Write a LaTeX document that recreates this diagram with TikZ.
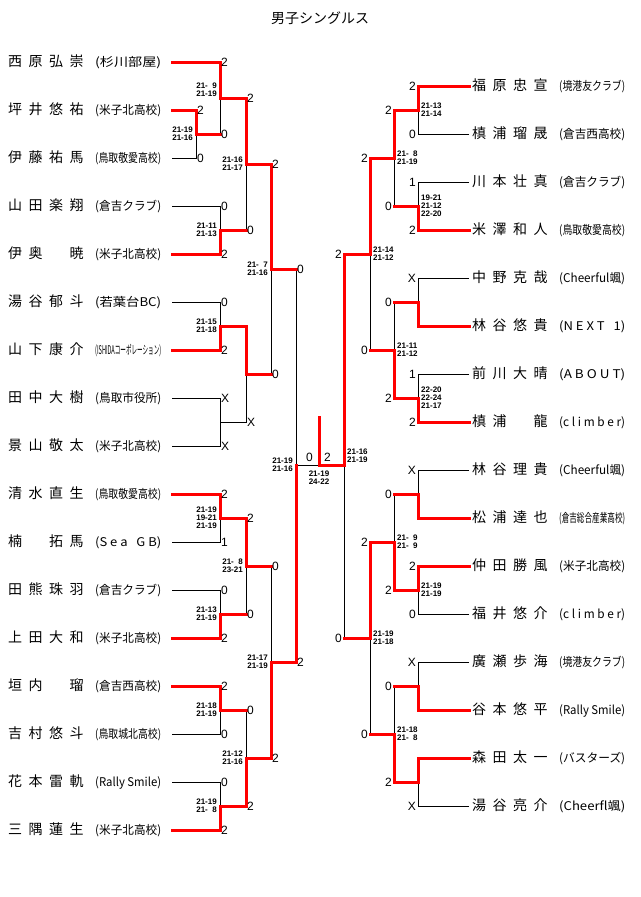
\documentclass[tikz,border=0pt]{standalone}
\usepackage{fontspec}
\setmainfont{Liberation Sans}
\newfontfamily\jp{Noto Sans CJK JP}

% four fixed cells for a name, one club box of fixed width
\newcommand\cells[4]{\makebox[20.5pt][l]{#1}\makebox[20.5pt][l]{#2}\makebox[20.5pt][l]{#3}\makebox[20.5pt][l]{#4}}
\newcommand\club[1]{\resizebox{66pt}{\height}{(#1)}}
\newcommand\player[2]{{\fontsize{14}{16}\selectfont\expandafter\cells#1}\hspace{5pt}{\fontsize{12}{13}\selectfont\club{#2}}}
\newcommand\pad{\hphantom{0}}

\begin{document}
\begin{tikzpicture}[x=1pt,y=-1pt,
	lose/.style={black,line width=0.9pt},
	win/.style={red,line width=3pt,line cap=rect},
	player/.style={anchor=west,inner sep=0pt,font=\jp},
	digit/.style={inner sep=1pt,font=\fontsize{12}{12}\selectfont},
	games/.style={inner sep=0pt,align=right,font=\fontsize{8}{8}\selectfont\bfseries},
	title/.style={font=\jp\fontsize{14}{16}\selectfont}]
	\useasboundingbox (0,0) rectangle (640,897);

	% Title
	\node[title] (title) at (320,18) {男子シングルス};

	% Players, left and right
	\foreach \nm/\cl [count=\i] in {西原弘崇/杉川部屋, 坪井悠祐/米子北高校, 伊藤祐馬/鳥取敬愛高校, 山田楽翔/倉吉クラブ, 伊奥{}暁/米子北高校, 湯谷郁斗/若葉台BC, 山下康介/ISHIDAコーポレーション, 田中大樹/鳥取市役所, 景山敬太/米子北高校, 清水直生/鳥取敬愛高校, 楠{}拓馬/S e a ~ G B, 田熊珠羽/倉吉クラブ, 上田大和/米子北高校, 垣内{}瑠/倉吉西高校, 吉村悠斗/鳥取城北高校, 花本雷軌/Rally Smile, 三隅蓮生/米子北高校}
	{
		\node[player] (tL\i) at (8,{62+48*(\i-1)}) {\player{\nm}{\cl}};
		\coordinate (L\i) at (172,{62+48*(\i-1)});
	}
	\foreach \nm/\cl [count=\i] in {福原忠宣/境港友クラブ, 槙浦瑠晟/倉吉西高校, 川本壮真/倉吉クラブ, 米澤和人/鳥取敬愛高校, 中野克哉/Cheerful颯, 林谷悠貴/N E X T ~ 1, 前川大晴/A B O U T, 槙浦{}龍/c l i m b e r, 林谷理貴/Cheerful颯, 松浦達也/倉吉総合産業高校, 仲田勝風/米子北高校, 福井悠介/c l i m b e r, 廣瀬歩海/境港友クラブ, 谷本悠平/Rally Smile, 森田太一/バスターズ, 湯谷亮介/Cheerfl颯}
	{
		\node[player] (tR\i) at (472,{86+48*(\i-1)}) {\player{\nm}{\cl}};
		\coordinate (R\i) at (469,{86+48*(\i-1)});
	}

	% Match joints
	\foreach \m/\x/\y in {mA/196/134, mB/220/98, mC/220/230, mD/246/164, mE/220/326, mF/220/422, mG/246/374, mH/271/269, mI/220/518, mJ/220/614, mK/246/566, mL/220/710, mM/220/806, mN/246/758, mO/271/662, mP/296/465, nA/418/110, nB/418/206, nC/394/158, nD/418/302, nE/418/398, nF/394/350, nG/370/254, nH/418/494, nI/418/590, nJ/394/542, nK/418/686, nL/418/782, nM/394/734, nN/370/638, nO/344/465, fin/319/465, champ/319/417}
		\coordinate (\m) at (\x,\y);

	% Bracket lines
	\foreach \src/\dst in {L2/mA, L3/mA, L1/mB, mA/mB, L4/mC, L5/mC, mB/mD, mC/mD, L6/mE, L7/mE, L8/mF, L9/mF, mE/mG, mF/mG, mD/mH, mG/mH, L10/mI, L11/mI, L12/mJ, L13/mJ, mI/mK, mJ/mK, L14/mL, L15/mL, L16/mM, L17/mM, mL/mN, mM/mN, mK/mO, mN/mO, mH/mP, mO/mP, R1/nA, R2/nA, R3/nB, R4/nB, nA/nC, nB/nC, R5/nD, R6/nD, R7/nE, R8/nE, nD/nF, nE/nF, nC/nG, nF/nG, R9/nH, R10/nH, R11/nI, R12/nI, nH/nJ, nI/nJ, R13/nK, R14/nK, R15/nL, R16/nL, nK/nM, nL/nM, nJ/nN, nM/nN, nG/nO, nN/nO}
		\draw[lose] (\src) -| (\dst);
	\draw[lose] (mP) -- (nO);

	% Winners in red
	\foreach \src/\dst in {L2/mA, L1/mB, L5/mC, mB/mD, L7/mE, mE/mG, mD/mH, L10/mI, L13/mJ, mI/mK, L14/mL, L17/mM, mM/mN, mN/mO, mO/mP, R1/nA, R4/nB, nA/nC, R6/nD, R8/nE, nE/nF, nC/nG, R10/nH, R11/nI, nI/nJ, R14/nK, R15/nL, nL/nM, nJ/nN, nG/nO}
		\draw[win] (\src) -| (\dst);
	\foreach \src/\dst in {mA/mB, mC/mD, mG/mH, mJ/mK, mL/mN, mK/mO, mH/mP, nB/nC, nD/nF, nF/nG, nH/nJ, nK/nM, nM/nN, nN/nO}
		\draw[win] (\src) -- (\src -| \dst);
	\draw[win] (nO) -- (fin) -- (champ);

	% Games won
	\foreach \dst/\src/\sc in {mA/L2/2, mA/L3/0, mB/L1/2, mB/mA/0, mC/L4/0, mC/L5/2, mD/mB/2, mD/mC/0, mE/L6/0, mE/L7/2, mF/L8/X, mF/L9/X, mG/mF/X, mH/mD/2, mH/mG/0, mI/L10/2, mI/L11/1, mJ/L12/0, mJ/L13/2, mK/mI/2, mK/mJ/0, mL/L14/2, mL/L15/0, mM/L16/0, mM/L17/2, mN/mL/0, mN/mM/2, mO/mK/0, mO/mN/2, mP/mH/0, mP/mO/2}
		\node[digit,anchor=west] (s\dst\src) at (\dst |- \src) {\sc};
	\foreach \dst/\src/\sc in {nA/R1/2, nA/R2/0, nB/R3/1, nB/R4/2, nC/nA/2, nC/nB/0, nD/R5/X, nE/R7/1, nE/R8/2, nF/nD/0, nF/nE/2, nG/nC/2, nG/nF/0, nH/R9/X, nI/R11/2, nI/R12/0, nJ/nH/0, nJ/nI/2, nK/R13/X, nL/R16/X, nM/nK/0, nM/nL/2, nN/nJ/2, nN/nM/0, nO/nG/2, nO/nN/0}
		\node[digit,anchor=east,xshift=-1pt] (s\dst\src) at (\dst |- \src) {\sc};
	\node[digit,anchor=south east] (sfinL) at ([shift={(-5pt,2pt)}]fin) {0};
	\node[digit,anchor=south west] (sfinR) at ([shift={(4pt,2pt)}]fin) {2};

	% Point scores
	\foreach \m/\sc/\dy in {mA/{21-19\\21-16}/0, mB/{21-\pad9\\21-19}/8, mC/{21-11\\21-13}/0, mD/{21-16\\21-17}/0, mE/{21-15\\21-18}/0, mH/{21-\pad7\\21-16}/0, mI/{21-19\\19-21\\21-19}/0, mJ/{21-13\\21-19}/0, mK/{21-\pad8\\23-21}/0, mL/{21-18\\21-19}/0, mM/{21-19\\21-\pad8}/0, mN/{21-12\\21-16}/0, mO/{21-17\\21-19}/0, mP/{21-19\\21-16}/0}
		\node[games,anchor=east] (g\m) at ([shift={(-3pt,\dy pt)}]\m) {\sc};
	\foreach \m/\sc/\dy in {nA/{21-13\\21-14}/0, nB/{19-21\\21-12\\22-20}/0, nC/{21-\pad8\\21-19}/0, nE/{22-20\\22-24\\21-17}/0, nF/{21-11\\21-12}/0, nG/{21-14\\21-12}/0, nI/{21-19\\21-19}/0, nJ/{21-\pad9\\21-\pad9}/0, nM/{21-18\\21-\pad8}/0, nN/{21-19\\21-18}/0, nO/{21-16\\21-19}/9}
		\node[games,anchor=west,align=left] (g\m) at ([shift={(3pt,\dy pt)}]\m) {\sc};
	\node[games,align=center] (gfin) at ([yshift=-13pt]fin) {21-19\\24-22};
\end{tikzpicture}
\end{document}
